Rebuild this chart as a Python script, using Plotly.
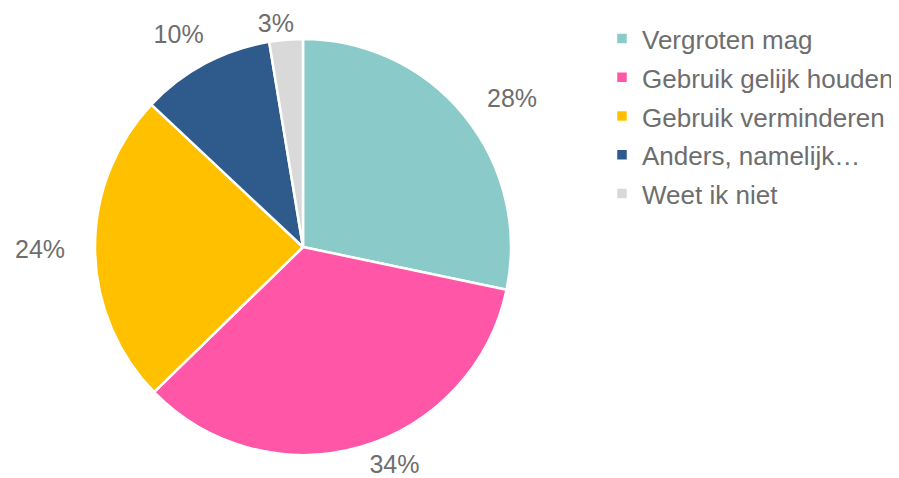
import plotly.graph_objects as go

# ---- data ----
categories = ["Vergroten mag", "Gebruik gelijk houden", "Gebruik verminderen",
              "Anders, namelijk…", "Weet ik niet"]
values = [28.3, 34.4, 24.3, 10.4, 2.6]

# ---- style ----
colors = ["#8ACBC9", "#FF56A8", "#FFC000", "#2F5B8C", "#D9D9D9"]
TEXT_GRAY = "#6E6E6E"
FONT = "Liberation Sans, Arial, sans-serif"
W, H = 891, 470            # page body has an 8px margin
CX, CY, R = 295, 239, 208  # pie centre / radius in paper px
label_push_px = [20, 5, 23, 14, 2]        # outward offset of each percent label
label_turn_deg = [0, 0, 0, 3.5, 4.1]      # small angular nudge of each label

legend_labels = [f'<span style="font-size:26px">{c}</span>' for c in categories]


def domain_for(radius):
    return dict(x=[max(0, (CX - radius) / W), min(1, (CX + radius) / W)],
                y=[max(0, 1 - (CY + radius) / H), min(1, 1 - (CY - radius) / H)])


fig = go.Figure()

# visible pie
fig.add_trace(go.Pie(
    labels=legend_labels, values=values, sort=False,
    direction="clockwise", rotation=0,
    marker=dict(colors=colors, line=dict(color="white", width=2.5)),
    textposition="none", domain=domain_for(R),
    hovertemplate="%{label}: %{percent:.0%}<extra></extra>",
))

# transparent pies, one per percentage label
transparent = ["rgba(0,0,0,0)"] * len(values)
n = len(values)
for i in range(n):
    p = label_push_px[i] / R
    pl = [p if j == i else 0 for j in range(n)]
    fig.add_trace(go.Pie(
        labels=legend_labels, values=values, sort=False,
        direction="clockwise", rotation=label_turn_deg[i],
        marker=dict(colors=transparent, line=dict(width=0)),
        pull=pl,
        textposition=["outside" if j == i else "none" for j in range(n)],
        texttemplate="%{percent:.0%}",
        textfont=dict(family=FONT, size=25, color=TEXT_GRAY),
        domain=domain_for(R * (1 + p)),
        showlegend=False, hoverinfo="skip",
    ))

fig.update_layout(
    width=W, height=H,
    margin=dict(l=0, r=0, t=0, b=0, autoexpand=False),
    paper_bgcolor="white", plot_bgcolor="white",
    showlegend=True,
    legend=dict(
        x=594 / W, xanchor="left",
        y=1 - 6 / H, yanchor="top",
        font=dict(family=FONT, size=27.5, color=TEXT_GRAY),
        bgcolor="rgba(0,0,0,0)",
    ),
)

fig.write_html("out.html")
